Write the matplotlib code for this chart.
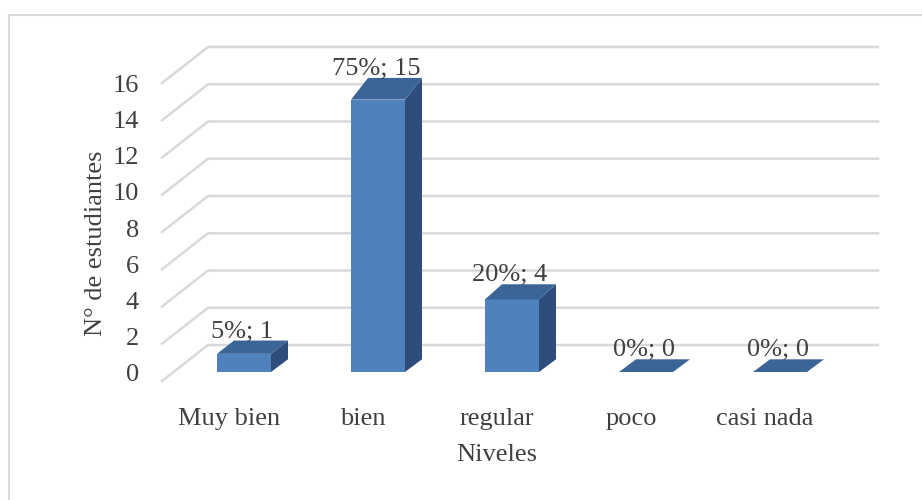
import matplotlib.pyplot as plt
from matplotlib.patches import Polygon, Rectangle

# data
niveles = ['Muy bien', 'bien', 'regular', 'poco', 'casi nada']
estudiantes = [1, 15, 4, 0, 0]
porcentajes = [5, 75, 20, 0, 0]
ticks = [0, 2, 4, 6, 8, 10, 12, 14, 16]

plt.rcParams['font.family'] = ['Liberation Serif', 'DejaVu Serif']
TXT = '#404040'
GRID = '#D9D9D9'
FRONT, TOP, SIDE = '#4F81BD', '#3B6497', '#2E4D7B'

W, H = 922, 500
fig = plt.figure(figsize=(W / 100, H / 100), dpi=100)
# axes = front plane of the 3d box (pixels 162..832, 381..83)
ax = fig.add_axes([162 / W, (H - 381) / H, 670 / W, 298 / H])
ax.set_xlim(-0.5, 4.5)
ax.set_ylim(0, 16)
ax.axis('off')

PX = 670 / 5          # pixels per category
PY = 298 / 16         # pixels per unit
DX, DY = 46 / PX, 36 / PY          # wall depth
ox, oy = 15 / PX, 9 / PY           # bar front face offset
bw = 54 / PX                       # bar width
bdx = 17 / PX                      # bar depth
bs = 0.975                         # perspective shrink of the bars

# walls: gridlines on side wall and back wall
for t in ticks:
    ax.plot([-0.5, -0.5 + DX, 4.5 + DX], [t, t + DY, t + DY],
            color=GRID, lw=1.8, clip_on=False, zorder=1)
    ax.text(-0.5 - 23 / PX, t * 0.972 + 0.3, str(t), ha='right',
            va='center', fontsize=19, color=TXT)

# bars
for i, (v, p) in enumerate(zip(estudiantes, porcentajes)):
    x0 = i - bw / 2 + ox
    x1 = x0 + bw
    y0 = oy
    y1 = oy + v * bs
    dyb = 12.7 / PY
    dyt = (12.7 + 0.6 * v) / PY
    side = [(x1, y0), (x1 + bdx, y0 + dyb), (x1 + bdx, y1 + dyt), (x1, y1)]
    top = [(x0, y1), (x1, y1), (x1 + bdx, y1 + dyt), (x0 + bdx, y1 + dyt)]
    ax.add_patch(Polygon(side, closed=True, facecolor=SIDE, edgecolor='none',
                         clip_on=False, zorder=3))
    ax.add_patch(Rectangle((x0, y0), bw, y1 - y0, facecolor=FRONT,
                           edgecolor='none', clip_on=False, zorder=3))
    ax.add_patch(Polygon(top, closed=True, facecolor=TOP, edgecolor='none',
                         clip_on=False, zorder=3))
    ax.text(i + ox - 2 / PX, y1 + dyt + 3 / PY, f'{p}%; {v}', ha='center',
            va='baseline', fontsize=19, color=TXT, zorder=4)

# category labels and axis titles
for i, name in enumerate(niveles):
    ax.text(i, -44 / PY, name, ha='center', va='baseline', fontsize=19,
            color=TXT)
ax.text(2, -80 / PY, 'Niveles', ha='center', va='baseline', fontsize=19,
        color=TXT)
ax.text(-0.5 - 66 / PX, (381 - 243) / PY, 'N° de estudiantes', rotation=90,
        ha='center', va='center', fontsize=19, color=TXT)

# chart area border (right and bottom edges fall outside the picture)
fig.patches.append(Rectangle((9 / W, -0.05), 1.0, (H - 15) / H + 0.05,
                             transform=fig.transFigure, fill=False,
                             edgecolor=GRID, lw=1.5))

fig.savefig('out.png', dpi=100)
